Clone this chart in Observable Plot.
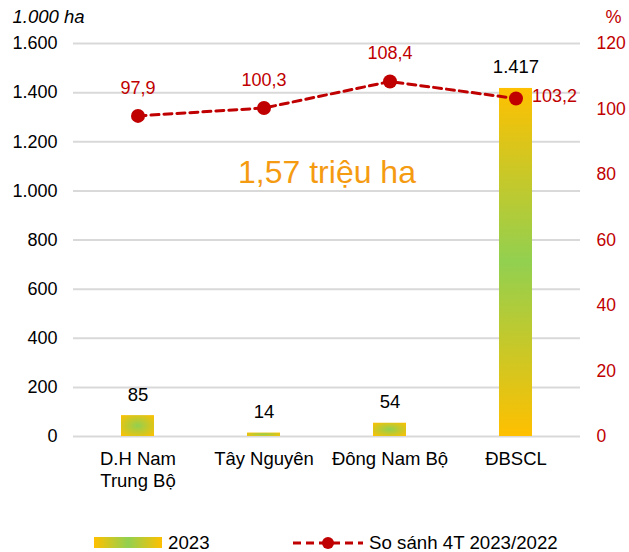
<!DOCTYPE html>
<html><head><meta charset="utf-8">
<script src="https://cdn.jsdelivr.net/npm/d3@7"></script>
<script src="https://cdn.jsdelivr.net/npm/@observablehq/plot@0.6"></script>
<style>
body{margin:0;background:#fff;font-family:"Liberation Sans",Arial,sans-serif;}
#legend{position:relative;height:47px;width:629px;color:#000;}
</style>
</head><body>
<div id="chart"></div>
<div id="legend">
  <svg width="629" height="47" style="position:absolute;left:0;top:0">
    <defs>
      <linearGradient id="lg" x1="0" x2="1" y1="0" y2="0">
        <stop offset="0" stop-color="#FFC000"/><stop offset="0.5" stop-color="#92D050"/><stop offset="1" stop-color="#FFC000"/>
      </linearGradient>
    </defs>
    <rect x="94" y="32" width="68" height="11" fill="url(#lg)"/>
    <text x="168" y="44" font-size="18.7" font-family="Liberation Sans, Arial, sans-serif">2023</text>
    <line x1="293" x2="363" y1="38" y2="38" stroke="#C00000" stroke-width="3" stroke-dasharray="8,5"/>
    <circle cx="328" cy="38" r="6" fill="#C00000"/>
    <text x="369" y="44" font-size="18.7" font-family="Liberation Sans, Arial, sans-serif">So sánh 4T 2023/2022</text>
  </svg>
</div>
<script>
const regions = ["D.H Nam\nTrung Bộ", "Tây Nguyên", "Đông Nam Bộ", "ĐBSCL"];
const area2023 = [85, 14, 54, 1417];
const ratioPct = [97.9, 100.3, 108.4, 103.2];
const leftTicks = [0, 200, 400, 600, 800, 1000, 1200, 1400, 1600];
const rightTicks = [0, 20, 40, 60, 80, 100, 120];
const totalLabel = "1,57 triệu ha";

const LMAX = 1600, RMAX = 120;
const toLeft = v => v * LMAX / RMAX;
const vn = d3.formatLocale({decimal: ",", thousands: ".", grouping: [3], currency: ["", ""]});
const fmtInt = vn.format(",d");
const fmtPct = vn.format(".1f");

const data = regions.map((r, i) => ({region: r, area: area2023[i], pct: ratioPct[i], pctL: toLeft(ratioPct[i])}));
const RED = "#C00000";
const FONT = "Liberation Sans, Arial, sans-serif";

const defs = () => {
  const d = d3.create("svg:defs");
  const v = d.append("linearGradient").attr("id", "vg").attr("x1", 0).attr("x2", 0).attr("y1", 0).attr("y2", 1);
  v.append("stop").attr("offset", 0).attr("stop-color", "#FFC000");
  v.append("stop").attr("offset", 0.5).attr("stop-color", "#92D050");
  v.append("stop").attr("offset", 1).attr("stop-color", "#FFC000");
  const r = d.append("radialGradient").attr("id", "rg").attr("cx", 0.5).attr("cy", 0.5).attr("r", 0.7);
  r.append("stop").attr("offset", 0).attr("stop-color", "#92D050");
  r.append("stop").attr("offset", 1).attr("stop-color", "#FFC000");
  return d.node();
};

const chart = Plot.plot({
  width: 629,
  height: 505,
  marginTop: 43,
  marginBottom: 69,
  marginLeft: 73,
  marginRight: 49,
  style: {fontFamily: FONT, fontSize: "18px", color: "#000", background: "#fff"},
  x: {domain: regions, paddingInner: 0.74, paddingOuter: 0.37, label: null},
  y: {domain: [0, LMAX], label: null},
  marks: [
    defs,
    Plot.gridY(leftTicks, {stroke: "#d9d9d9", strokeOpacity: 1, strokeWidth: 2}),
    Plot.axisY({ticks: leftTicks, tickFormat: fmtInt, tickSize: 0, tickPadding: 16, label: null, fontSize: 18, fill: "#000"}),
    Plot.axisY({ticks: rightTicks.map(toLeft), tickFormat: v => String(Math.round(v * RMAX / LMAX)), anchor: "right", tickSize: 0, tickPadding: 16, label: null, fontSize: 17.5, fill: RED, textAnchor: "start"}),
    Plot.axisX({tickSize: 0, tickPadding: 13, label: null, fontSize: 18.5, fill: "#000", lineHeight: 1.2}),
    Plot.barY(data, {x: "region", y: "area", fill: "url(#rg)"}),
    Plot.text(data, {x: "region", y: "area", text: d => fmtInt(d.area), dy: -21, fontSize: 18.5, fill: "#000", lineAnchor: "middle"}),
    Plot.line(data, {x: "region", y: "pctL", stroke: RED, strokeWidth: 3, strokeDasharray: "8,5"}),
    Plot.dot(data, {x: "region", y: "pctL", r: 7, fill: RED}),
    Plot.text(data.slice(0, -1), {x: "region", y: "pctL", text: d => fmtPct(d.pct), dy: -28, fontSize: 18, fill: RED, lineAnchor: "middle"}),
    Plot.text(data.slice(-1), {x: "region", y: "pctL", text: d => fmtPct(d.pct), dx: 16, dy: -2, textAnchor: "start", fontSize: 18, fill: RED, lineAnchor: "middle"}),
    Plot.text([totalLabel], {frameAnchor: "top", dy: 129, text: d => d, fontSize: 32, fill: "#F59B12", lineAnchor: "middle"}),
    Plot.text(["1.000 ha"], {frameAnchor: "top-left", dx: -61, dy: -26, text: d => d, textAnchor: "start", fontSize: 18.5, fontStyle: "italic", fill: "#000", lineAnchor: "middle"}),
    Plot.text(["%"], {frameAnchor: "top-right", dx: 33, dy: -26, text: d => d, textAnchor: "middle", fontSize: 18, fill: RED, lineAnchor: "middle"})
  ]
});

d3.select(chart).selectAll('g[aria-label="bar"] rect').each(function() {
  const w = +this.getAttribute("width"), h = +this.getAttribute("height");
  if (h > 3 * w) this.setAttribute("fill", "url(#vg)");
});
document.getElementById("chart").appendChild(chart);
</script>
</body></html>
